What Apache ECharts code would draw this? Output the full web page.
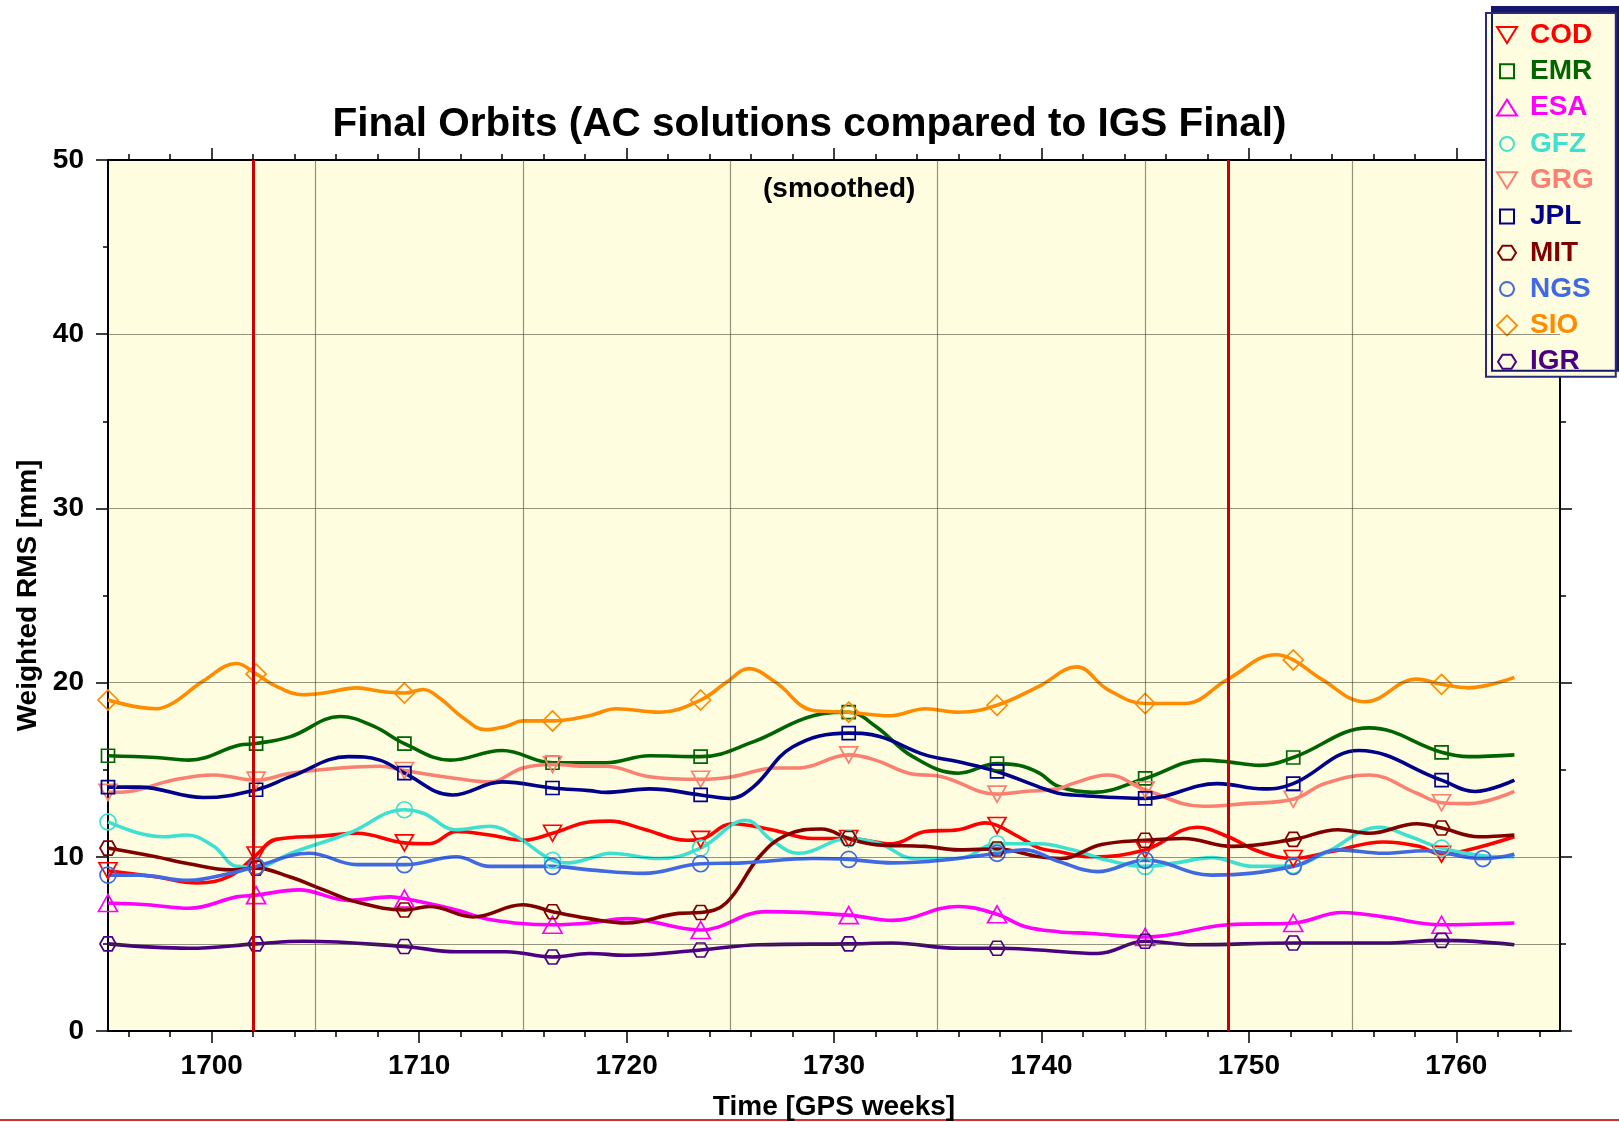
<!DOCTYPE html>
<html><head><meta charset="utf-8">
<script src="https://cdn.jsdelivr.net/npm/echarts@6/dist/echarts.min.js"></script>
<style>html,body{margin:0;padding:0;background:#fff;}#c{width:1619px;height:1122px;}</style>
</head><body><div id="c"></div>
<script>
// ---------------- data ----------------
const NAMES = ['COD','EMR','ESA','GFZ','GRG','JPL','MIT','NGS','SIO','IGR'];
const MARKER_WEEKS = [1695,1702.14,1709.29,1716.43,1723.57,1730.71,1737.86,1745,1752.14,1759.29];
const NGS_MARKER_WEEKS = [1695,1702.14,1709.29,1716.43,1723.57,1730.71,1737.86,1745,1752.14,1761.28];

const COD = [[1695,9.2],[1697.3,8.85],[1699.3,8.5],[1700.9,8.9],[1702.14,10.1],[1703.1,11.0],[1705.4,11.2],[1707.0,11.35],[1709.29,10.8],[1710.5,10.75],[1711.8,11.45],[1713.4,11.25],[1715.0,10.95],[1716.43,11.35],[1718.2,12.0],[1719.2,12.05],[1720.8,11.6],[1722.9,10.95],[1723.57,11.0],[1725.1,11.9],[1727.0,11.55],[1729.0,11.05],[1730.71,11.05],[1732.8,10.75],[1734.4,11.45],[1736.0,11.55],[1737.3,11.95],[1737.86,11.8],[1738.9,11.15],[1739.9,10.5],[1740.8,10.3],[1742.4,10.0],[1745,10.4],[1747.5,11.7],[1749.0,11.15],[1750.5,10.3],[1752.14,9.9],[1754.0,10.3],[1756.5,10.85],[1758.2,10.6],[1759.29,10.15],[1760.6,10.4],[1762.8,11.15]];
const EMR = [[1695,15.8],[1697.3,15.7],[1698.9,15.55],[1701.3,16.4],[1702.14,16.5],[1703.8,16.9],[1706.2,18.05],[1707.8,17.5],[1709.29,16.5],[1711.5,15.55],[1714.0,16.1],[1716.43,15.4],[1718.2,15.4],[1719.0,15.4],[1721.1,15.8],[1723.57,15.75],[1726.1,16.6],[1729.0,18.1],[1730.71,18.3],[1732.0,17.5],[1733.8,15.75],[1736.0,14.8],[1737.86,15.35],[1738.9,15.25],[1739.9,14.8],[1740.8,14.05],[1742.5,13.7],[1745,14.5],[1747.8,15.55],[1749.0,15.45],[1750.5,15.25],[1752.14,15.7],[1755.8,17.4],[1759.29,16.0],[1760.6,15.75],[1762.8,15.85]];
const ESA = [[1695,7.35],[1696.9,7.25],[1698.9,7.05],[1701.2,7.7],[1702.14,7.8],[1704.2,8.1],[1706.6,7.5],[1708.6,7.7],[1709.29,7.6],[1711.8,6.95],[1713.4,6.4],[1716.43,6.1],[1718.2,6.2],[1720.0,6.45],[1723.57,5.8],[1726.7,6.85],[1730.71,6.65],[1732.8,6.35],[1736.0,7.15],[1737.86,6.7],[1739.2,6.0],[1740.8,5.7],[1742.4,5.6],[1745,5.4],[1749.0,6.1],[1752.14,6.2],[1754.5,6.8],[1756.5,6.55],[1759.29,6.1],[1762.8,6.2]];
const GFZ = [[1695,12.0],[1696.5,11.35],[1697.7,11.15],[1698.8,11.25],[1700.1,10.6],[1701.2,9.45],[1702.14,9.4],[1703.8,10.2],[1706.6,11.35],[1709.29,12.7],[1710.2,12.5],[1711.8,11.55],[1713.4,11.75],[1714.7,11.15],[1716.43,9.8],[1717.2,9.65],[1718.2,9.9],[1719.2,10.2],[1721.6,9.9],[1723.57,10.5],[1725.75,12.1],[1727.0,10.95],[1728.3,10.2],[1730.71,11.05],[1732.2,10.75],[1733.9,9.9],[1736.0,9.9],[1737.86,10.75],[1739.9,10.75],[1741.5,10.4],[1743.2,9.8],[1745,9.45],[1746.5,9.65],[1748.2,9.95],[1750.2,9.45],[1752.14,9.5],[1753.65,10.2],[1756.3,11.7],[1757.8,11.15],[1759.29,10.5],[1761.4,10.05],[1762.8,10.0]];
const GRG = [[1695,13.7],[1696.0,13.75],[1698.1,14.4],[1700.1,14.7],[1702.14,14.4],[1703.8,14.8],[1706.2,15.1],[1708.1,15.2],[1709.29,14.95],[1711.8,14.5],[1713.4,14.3],[1715.0,15.1],[1716.43,15.3],[1718.2,15.2],[1719.0,15.2],[1721.1,14.6],[1723.57,14.45],[1725.1,14.6],[1727.2,15.1],[1728.3,15.1],[1730.71,15.85],[1732.0,15.55],[1733.6,14.8],[1735.2,14.6],[1737.86,13.6],[1739.2,13.75],[1740.8,13.9],[1741.5,14.2],[1743.2,14.7],[1745,13.85],[1747.8,12.9],[1749.8,13.05],[1752.14,13.3],[1753.65,14.2],[1755.8,14.7],[1758.1,13.65],[1759.29,13.1],[1760.6,13.05],[1762.8,13.75]];
const JPL = [[1695,14.0],[1696.5,14.0],[1699.6,13.4],[1702.14,13.85],[1703.8,14.6],[1706.6,15.75],[1708.1,15.55],[1709.29,14.8],[1711.6,13.55],[1714.0,14.3],[1716.43,13.95],[1718.2,13.8],[1719.0,13.7],[1721.1,13.9],[1723.57,13.55],[1724.95,13.35],[1726.1,14.0],[1728.0,16.3],[1730.71,17.1],[1732.2,16.9],[1734.4,15.85],[1736.0,15.45],[1737.86,14.9],[1739.9,14.0],[1740.8,13.65],[1741.5,13.55],[1745,13.35],[1748.5,14.2],[1750.7,13.9],[1752.14,14.2],[1755.3,16.1],[1759.29,14.4],[1760.9,13.75],[1762.8,14.4]];
const MIT = [[1695,10.5],[1697.3,10.0],[1698.9,9.6],[1700.9,9.25],[1702.14,9.35],[1703.75,8.85],[1705.4,8.1],[1707.0,7.4],[1709.29,6.95],[1710.5,7.15],[1712.6,6.55],[1715.0,7.25],[1716.43,6.85],[1718.2,6.45],[1720.0,6.2],[1722.5,6.75],[1723.57,6.8],[1724.8,7.35],[1726.4,10.0],[1727.7,11.25],[1729.4,11.6],[1730.71,11.05],[1732.0,10.7],[1734.4,10.6],[1736.0,10.4],[1737.86,10.45],[1739.9,10.0],[1740.9,9.9],[1742.9,10.7],[1745,10.95],[1746.85,11.05],[1749.2,10.6],[1752.14,11.0],[1754.3,11.55],[1755.8,11.35],[1758.1,11.9],[1759.29,11.65],[1761.1,11.15],[1762.8,11.25]];
const NGS = [[1695,8.95],[1696.5,8.95],[1698.9,8.65],[1700.9,9.05],[1702.14,9.45],[1704.7,10.2],[1707.0,9.55],[1709.29,9.55],[1711.8,10.0],[1713.4,9.45],[1716.43,9.45],[1718.2,9.25],[1720.8,9.05],[1723.57,9.6],[1725.6,9.65],[1729.0,9.9],[1730.71,9.85],[1732.8,9.65],[1735.2,9.8],[1737.86,10.2],[1739.2,10.4],[1740.8,9.75],[1742.7,9.15],[1745,9.8],[1748.2,8.95],[1752.14,9.45],[1754.3,10.4],[1756.5,10.2],[1758.5,10.35],[1761.28,9.9],[1762.8,10.15]];
const SIO = [[1695,19.0],[1697.3,18.5],[1698.1,18.8],[1699.6,20.1],[1701.2,21.1],[1702.14,20.5],[1703.1,19.8],[1704.4,19.3],[1705.4,19.4],[1707.0,19.7],[1708.1,19.5],[1709.29,19.4],[1710.2,19.6],[1711.0,19.1],[1712.1,18.0],[1713.2,17.3],[1714.2,17.5],[1715.0,17.8],[1716.43,17.8],[1718.2,18.1],[1719.5,18.5],[1721.6,18.3],[1723.57,19.0],[1724.8,20.0],[1725.9,20.8],[1727.2,20.0],[1729.0,18.4],[1730.71,18.3],[1732.7,18.1],[1734.4,18.5],[1736.0,18.3],[1737.86,18.7],[1739.9,19.8],[1741.7,20.9],[1743.2,19.6],[1745,18.8],[1746.9,18.8],[1749.0,20.2],[1751.3,21.6],[1752.14,21.3],[1753.5,20.2],[1755.6,18.9],[1758.1,20.2],[1759.29,19.9],[1760.6,19.7],[1762.8,20.3]];
const IGR = [[1695,5.0],[1698.9,4.75],[1702.14,5.0],[1704.4,5.15],[1709.29,4.85],[1711.8,4.55],[1714.2,4.55],[1716.43,4.25],[1718.2,4.45],[1720.0,4.35],[1723.57,4.65],[1726.4,4.95],[1730.71,5.0],[1732.8,5.05],[1736.0,4.75],[1737.86,4.75],[1739.9,4.65],[1742.7,4.45],[1745,5.15],[1747.3,4.95],[1752.14,5.05],[1756.5,5.05],[1759.29,5.2],[1762.8,4.95]];

const X_LABEL_WEEKS = [1700,1710,1720,1730,1740,1750,1760];
const X_MINOR_WEEKS = [1696,1698,1702,1704,1706,1708,1712,1714,1716,1718,1722,1724,1726,1728,1732,1734,1736,1738,1742,1744,1746,1748,1752,1754,1756,1758,1762,1764];
const V_GRID_WEEKS = [1705,1715,1725,1735,1745,1755];
const H_GRID_VALUES = [5,10,20,30,40];
const RED_LINE_WEEKS = [1702,1749];

// ---------------- styles ----------------
const FONT = 'Liberation Sans, Arial, Helvetica, sans-serif';
const TRI_DOWN = 'path://M0,0 L20,0 L10,17 Z';
const HEX = 'path://M0,6 L4,0 L12,0 L16,6 L12,12 L4,12 Z';
const LEG = {
  triDown: 'path://M0,0 M30,20 M2,2 L22,2 L12,18 Z',
  square: 'path://M0,0 M30,20 M5,3 L19,3 L19,17 L5,17 Z',
  triUp: 'path://M0,0 M30,20 M2,18 L22,18 L12,2 Z',
  circle: 'path://M0,0 M30,20 M5,10 A7,7 0 1 1 19,10 A7,7 0 1 1 5,10 Z',
  hex: 'path://M0,0 M30,20 M3,10 L7.5,3 L16.5,3 L21,10 L16.5,17 L7.5,17 Z',
  diamond: 'path://M0,0 M30,20 M12,0 L22,10 L12,20 L2,10 Z'
};
const STYLE = {
  COD: {color:'#ff0000', symbol:TRI_DOWN, size:[18,16], icon:LEG.triDown},
  EMR: {color:'#006400', symbol:'rect', size:13, icon:LEG.square},
  ESA: {color:'#ff00ff', symbol:'triangle', size:[19,17], icon:LEG.triUp},
  GFZ: {color:'#40e0d0', symbol:'circle', size:16, icon:LEG.circle},
  GRG: {color:'#fa8072', symbol:TRI_DOWN, size:[18,16], icon:LEG.triDown},
  JPL: {color:'#00008b', symbol:'rect', size:13, icon:LEG.square},
  MIT: {color:'#800000', symbol:HEX, size:[16,14], icon:LEG.hex},
  NGS: {color:'#4169e1', symbol:'circle', size:16, icon:LEG.circle},
  SIO: {color:'#ff8c00', symbol:'diamond', size:[20,20], icon:LEG.diamond},
  IGR: {color:'#4b0082', symbol:HEX, size:[16,14], icon:LEG.hex}
};
const SERIES_DATA = {COD, EMR, ESA, GFZ, GRG, JPL, MIT, NGS, SIO, IGR};

function isMarker(list, w) { return list.some(m => Math.abs(m - w) < 0.02); }

const lineSeries = NAMES.map(name => {
  const st = STYLE[name];
  const marks = name === 'NGS' ? NGS_MARKER_WEEKS : MARKER_WEEKS;
  return {
    name, type: 'line', z: 2, smooth: 0.4, clip: false, silent: true,
    symbol: st.symbol, symbolSize: st.size, showSymbol: true,
    lineStyle: {color: st.color, width: 3.6},
    itemStyle: {color: 'rgba(0,0,0,0)', borderColor: st.color, borderWidth: 1.7},
    emphasis: {disabled: true},
    data: SERIES_DATA[name].map(([w, v]) => isMarker(marks, w) ? {value: [w, v]} : {value: [w, v], symbol: 'none'})
  };
});

const gridSeries = {
  name: 'gridlines', type: 'line', z: 1, silent: true, data: [],
  markLine: {
    silent: true, symbol: ['none','none'], animation: false, label: {show: false},
    lineStyle: {type: 'solid', color: 'rgba(60,60,40,0.55)', width: 1.2},
    emphasis: {disabled: true},
    data: V_GRID_WEEKS.map(w => ({xAxis: w})).concat(H_GRID_VALUES.map(v => ({yAxis: v})))
  }
};
const redSeries = {
  name: 'weeks', type: 'line', z: 3, silent: true, data: [],
  markLine: {
    silent: true, symbol: ['none','none'], animation: false, label: {show: false},
    lineStyle: {type: 'solid', color: '#cc0000', width: 3},
    emphasis: {disabled: true},
    data: RED_LINE_WEEKS.map(w => ({xAxis: w}))
  }
};

const axisLine = {show: true, onZero: false, lineStyle: {color: '#000', width: 2}};
const tickStyle = {color: '#000', width: 1.5};
const labelFont = {fontSize: 28, fontWeight: 'bold', color: '#000', fontFamily: FONT};

function xAx(position, major) {
  return {
    type: 'value', min: 1695, max: 1765, position,
    axisLine: major ? axisLine : {show: false, onZero: false},
    axisTick: {show: true, inside: false, length: major ? 12 : 6, lineStyle: tickStyle,
               customValues: major ? X_LABEL_WEEKS : X_MINOR_WEEKS},
    axisLabel: (major && position === 'bottom')
      ? Object.assign({show: true, margin: 21, customValues: X_LABEL_WEEKS, formatter: v => String(v)}, labelFont)
      : {show: false},
    splitLine: {show: false},
    name: (major && position === 'bottom') ? 'Time [GPS weeks]' : '',
    nameLocation: 'middle', nameGap: 62,
    nameTextStyle: {fontSize: 28, fontWeight: 'bold', color: '#000', fontFamily: FONT}
  };
}
function yAx(position) {
  const left = position === 'left';
  return {
    type: 'value', min: 0, max: 50, interval: 10, position,
    axisLine,
    axisTick: {show: true, inside: false, length: 12, lineStyle: tickStyle},
    minorTick: {show: true, splitNumber: 2, length: left ? 5 : 6, lineStyle: tickStyle},
    axisLabel: left ? Object.assign({show: true, margin: 24}, labelFont) : {show: false},
    splitLine: {show: false},
    name: left ? 'Weighted RMS [mm]' : '',
    nameLocation: 'middle', nameGap: 62, nameRotate: 90,
    nameTextStyle: {fontSize: 28, fontWeight: 'bold', color: '#000', fontFamily: FONT}
  };
}

const option = {
  animation: false,
  backgroundColor: '#ffffff',
  textStyle: {fontFamily: FONT},
  title: [
    {text: 'Final Orbits (AC solutions compared to IGS Final)', left: 'center', top: 104, padding: 0,
     textStyle: {fontSize: 40.5, fontWeight: 'bold', color: '#000', fontFamily: FONT}},
    {text: '(smoothed)', left: 763, top: 175, padding: 0,
     textStyle: {fontSize: 28, fontWeight: 'bold', color: '#000', fontFamily: FONT}}
  ],
  grid: {left: 108, top: 160, width: 1452, height: 871, show: true, backgroundColor: '#fffde0', borderWidth: 0,
         containLabel: false, outerBoundsMode: 'none'},
  xAxis: [xAx('bottom', true), xAx('bottom', false), xAx('top', true), xAx('top', false)],
  yAxis: [yAx('left'), yAx('right')],
  legend: {
    orient: 'vertical', left: 1486, top: 13,
    padding: [8, 22, 1, 8], itemGap: 8.3, itemWidth: 30, itemHeight: 20,
    backgroundColor: '#fffde0', borderColor: '#2a2a7a', borderWidth: 2,
    shadowColor: '#16166a', shadowBlur: 0, shadowOffsetX: 6, shadowOffsetY: -6,
    selectedMode: false,
    textStyle: {fontSize: 28, fontWeight: 'bold', fontFamily: FONT},
    data: NAMES.map(n => ({
      name: n, icon: STYLE[n].icon,
      itemStyle: {color: 'rgba(0,0,0,0)', borderColor: STYLE[n].color, borderWidth: 2},
      textStyle: {color: STYLE[n].color}
    }))
  },
  graphic: [{type: 'rect', left: 0, top: 1119, shape: {width: 1619, height: 2}, style: {fill: '#d93030'}, silent: true}],
  series: [gridSeries].concat(lineSeries).concat([redSeries])
};

const chart = echarts.init(document.getElementById('c'), null, {renderer: 'canvas'});
chart.setOption(option);
</script></body></html>
